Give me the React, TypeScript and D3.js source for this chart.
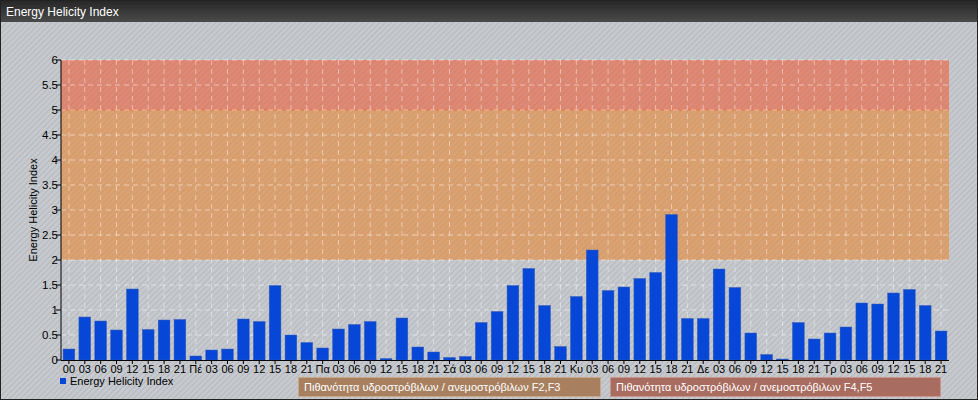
import React from "react";
import * as d3 from "d3";

const categories: string[] = [
  "00","03","06","09","12","15","18","21",
  "Πέ","03","06","09","12","15","18","21",
  "Πα","03","06","09","12","15","18","21",
  "Σά","03","06","09","12","15","18","21",
  "Κυ","03","06","09","12","15","18","21",
  "Δε","03","06","09","12","15","18","21",
  "Τρ","03","06","09","12","15","18","21",
];

const helicityValues: number[] = [
  0.22, 0.86, 0.78, 0.60, 1.42, 0.61, 0.80, 0.81,
  0.08, 0.20, 0.22, 0.82, 0.77, 1.49, 0.50, 0.35,
  0.24, 0.62, 0.71, 0.77, 0.03, 0.84, 0.26, 0.16,
  0.05, 0.07, 0.75, 0.97, 1.49, 1.83, 1.09, 0.27,
  1.27, 2.20, 1.39, 1.46, 1.63, 1.75, 2.91, 0.83,
  0.83, 1.82, 1.45, 0.54, 0.11, 0.02, 0.75, 0.42,
  0.54, 0.66, 1.14, 1.12, 1.34, 1.41, 1.09, 0.58,
];

const yTicks: number[] = [0, 0.5, 1, 1.5, 2, 2.5, 3, 3.5, 4, 4.5, 5, 5.5, 6];

const bands = [
  { from: 2, to: 5, label: "Πιθανότητα υδροστρόβιλων / ανεμοστρόβιλων F2,F3" },
  { from: 5, to: 6, label: "Πιθανότητα υδροστρόβιλων / ανεμοστρόβιλων F4,F5" },
];

const W = 978;
const H = 400;
const FONT = "'Liberation Sans', Arial, sans-serif";

export default function App() {
  const x = d3.scaleBand<number>()
    .domain(categories.map((_, i) => i))
    .range([61, 949])
    .paddingInner(0.26)
    .paddingOuter(0.13);
  const y = d3.scaleLinear().domain([0, 6]).range([360, 60]);
  const bandColors = ["rgb(232,134,52)", "rgb(236,94,56)"];
  const legendFill = ["#a8805f", "#a96c60"];
  const legendStroke = ["#c9a88a", "#c9958a"];
  const cx = (i: number) => (x(i) as number) + x.bandwidth() / 2;

  return (
    <svg width={W} height={H} style={{ position: "absolute", left: 0, top: 0 }} fontFamily={FONT}>
      <defs>
        <pattern id="stripes" width="4" height="4" patternUnits="userSpaceOnUse" patternTransform="rotate(45)">
          <rect width="4" height="4" fill="#c6cace" />
          <line x1="0" y1="0" x2="0" y2="4" stroke="#a9aeb4" strokeWidth="1.2" />
        </pattern>
        <linearGradient id="titleGrad" x1="0" y1="0" x2="0" y2="1">
          <stop offset="0" stopColor="#262626" />
          <stop offset="1" stopColor="#4a4a4a" />
        </linearGradient>
      </defs>
      <rect x={0} y={0} width={W} height={H} fill="url(#stripes)" />
      <rect x={0} y={0} width={W} height={22} fill="url(#titleGrad)" />
      <text x={6} y={16} fill="#fff" fontSize={12}>Energy Helicity Index</text>
      <rect x={0.5} y={0.5} width={W - 1} height={H - 1} fill="none" stroke="#222" />

      {bands.map((b, i) => (
        <rect key={i} x={61} width={888} y={y(b.to)} height={y(b.from) - y(b.to)}
          fill={bandColors[i]} opacity={0.6} />
      ))}
      <line x1={61} x2={949} y1={y(5)} y2={y(5)} stroke="#e8703a" strokeWidth={1} opacity={0.8} />

      {yTicks.filter(t => t > 0).map(t => (
        <line key={"h" + t} x1={61} x2={949} y1={y(t)} y2={y(t)}
          stroke="#fff" strokeOpacity={0.5} strokeDasharray="5,4" />
      ))}
      {categories.map((_, i) => (
        <line key={"v" + i} x1={cx(i)} x2={cx(i)} y1={60} y2={360}
          stroke="#fff" strokeOpacity={0.45} strokeDasharray="5,4" />
      ))}

      {helicityValues.map((v, i) => (
        <rect key={"b" + i} x={x(i)} width={x.bandwidth()} y={y(v)} height={y(0) - y(v)}
          fill="#0647d8" stroke="#3a5fb8" strokeWidth={0.5} />
      ))}

      <line x1={61} x2={61} y1={60} y2={360} stroke="#000" />
      {yTicks.map(t => (
        <g key={"yt" + t}>
          <line x1={56} x2={61} y1={y(t)} y2={y(t)} stroke="#000" />
          <text x={58} y={y(t) + 4} textAnchor="end" fontSize={11.5} fill="#000">{t}</text>
        </g>
      ))}
      <line x1={61} x2={949} y1={360.5} y2={360.5} stroke="#000" />
      {categories.map((c, i) => (
        <g key={"xt" + i}>
          <line x1={cx(i)} x2={cx(i)} y1={360} y2={364} stroke="#000" />
          <text x={cx(i)} y={373} textAnchor="middle" fontSize={11} fill="#000">{c}</text>
        </g>
      ))}

      <text transform={`translate(37,210) rotate(-90)`} textAnchor="middle" fontSize={11} fill="#000">
        Energy Helicity Index
      </text>

      <rect x={60} y={378} width={6} height={6} fill="#0647d8" />
      <text x={70} y={385} fontSize={11} fill="#000">Energy Helicity Index</text>

      <rect x={298.5} y={377.5} width={302} height={19} fill={legendFill[0]} stroke={legendStroke[0]} />
      <text x={304} y={391} fontSize={11} fill="#fff">{bands[0].label}</text>
      <rect x={610.5} y={377.5} width={330} height={19} fill={legendFill[1]} stroke={legendStroke[1]} />
      <text x={616} y={391} fontSize={11} fill="#fff">{bands[1].label}</text>
    </svg>
  );
}
